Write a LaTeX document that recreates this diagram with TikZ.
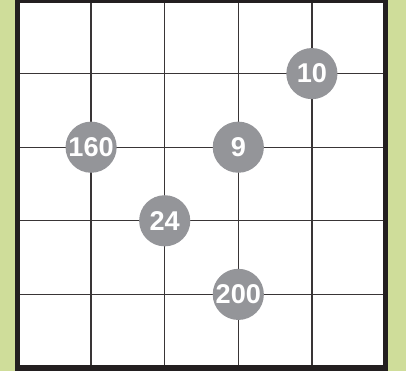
\documentclass[tikz,border=0pt]{standalone}
\usepackage{fontspec}
\setmainfont{Liberation Sans}
\definecolor{fondo}{RGB}{207,221,154}
\definecolor{marco}{RGB}{35,31,32}
\definecolor{grisbola}{RGB}{148,149,153}

\begin{document}
\begin{tikzpicture}[line width=1pt,
  bola/.style={circle,fill=grisbola,text=white,minimum size=1.39cm,inner sep=0pt,font=\fontsize{21}{21}\selectfont\bfseries}]
  \useasboundingbox[fill=fondo] (-0.476,-0.082) rectangle (10.557,10);
  \fill[white] (0,0) rectangle (10,10);
  % reticula
  \foreach \i in {2,4,6,8}{
    \draw[marco!90] (\i,0)--(\i,10); \draw[marco!90] (0,\i)--(10,\i);}
  \draw[marco,line width=3.9pt] (0,0) rectangle (10,10);
  % numeros en los cruces
  \node[bola] (n10) at (8,8){10};
  \node[bola] (n160) at (2,6){160};
  \node[bola] (n9) at (6,6){9};
  \node[bola] (n24) at (4,4){24};
  \node[bola] (n200) at (6,2){200};
\end{tikzpicture}
\end{document}
